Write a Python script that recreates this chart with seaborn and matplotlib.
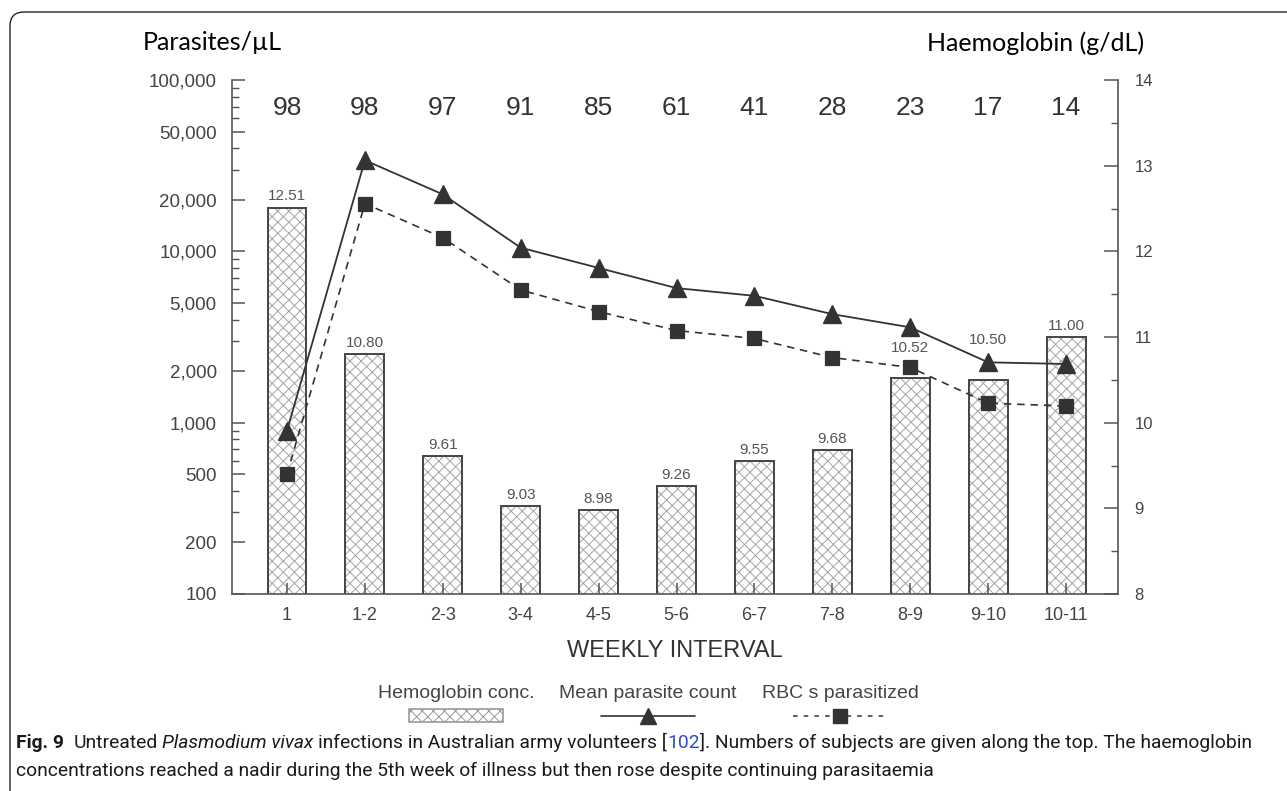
import matplotlib
matplotlib.use("Agg")
import matplotlib.pyplot as plt
import seaborn as sns
from matplotlib import font_manager
from matplotlib.ticker import FixedLocator, FuncFormatter, LogLocator, NullFormatter, MultipleLocator
from matplotlib.patches import FancyBboxPatch, Rectangle
from matplotlib.lines import Line2D
from matplotlib.transforms import IdentityTransform
from matplotlib.offsetbox import TextArea, DrawingArea, VPacker, HPacker, AnchoredOffsetbox


# Data
weeks = ["1", "1-2", "2-3", "3-4", "4-5", "5-6", "6-7", "7-8", "8-9", "9-10", "10-11"]
n_subjects = [98, 98, 97, 91, 85, 61, 41, 28, 23, 17, 14]
haemoglobin = [12.51, 10.80, 9.61, 9.03, 8.98, 9.26, 9.55, 9.68, 10.52, 10.50, 11.00]
parasite_count = [900, 34000, 21500, 10500, 8000, 6100, 5500, 4300, 3600, 2250, 2200]
rbc_parasitized = [500, 19000, 12000, 5950, 4450, 3450, 3100, 2400, 2100, 1300, 1250]

left_ticks = [100, 200, 500, 1000, 2000, 5000, 10000, 20000, 50000, 100000]
right_ticks = [8, 9, 10, 11, 12, 13, 14]

# in the original the 8-9 and 9-10 labels sit above the markers
label_pad = [3, 3, 3, 3, 3, 3, 3, 3, 17, 24, 3]

W, H = 1287, 791
ink = "#333333"
axis_col = "#555555"

sns.set_theme(style="ticks")
plt.rcParams["font.family"] = ["Liberation Sans", "DejaVu Sans"]
plt.rcParams["hatch.linewidth"] = 0.7

fig = plt.figure(figsize=(W / 100, H / 100), dpi=100)
ax = fig.add_axes([232 / W, 1 - 594 / H, (1118 - 232) / W, (594 - 80) / H])
ax2 = ax.twinx()
ax.set_zorder(3)
ax.patch.set_visible(False)

# Haemoglobin bars on the right axis
sns.barplot(x=weeks, y=haemoglobin, ax=ax2, width=0.5, color="white", saturation=1,
            edgecolor="#444444", linewidth=1.4, hatch="xxx")
bars = list(ax2.containers[0])
if hasattr(bars[0], "set_hatchcolor"):
    for bar in bars:
        bar.set_hatchcolor("#a5a5a5")
else:
    for bar in bars:
        bar.set_edgecolor("#a5a5a5")
        bar.set_linewidth(0)
    sns.barplot(x=weeks, y=haemoglobin, ax=ax2, width=0.5, fill=False,
                edgecolor="#444444", linewidth=1.4)

for bar, v, pad in zip(bars, haemoglobin, label_pad):
    ax2.annotate(f"{v:.2f}", (bar.get_x() + bar.get_width() / 2, bar.get_height()),
                 xytext=(0, pad), textcoords="offset points", ha="center", va="bottom",
                 fontsize=11, color="#555555")

# Parasite lines on the left log axis
ax.set_yscale("log")
sns.pointplot(x=weeks, y=parasite_count, ax=ax, color=ink, marker="^", markersize=12.5,
              linewidth=1.3, errorbar=None)
sns.pointplot(x=weeks, y=rbc_parasitized, ax=ax, color=ink, marker="s", markersize=10,
              linewidth=1.2, linestyle=(0, (4.5, 3.5)), errorbar=None)

ax.set_ylim(100, 100000)
ax.yaxis.set_major_locator(FixedLocator(left_ticks))
ax.yaxis.set_major_formatter(FuncFormatter(lambda v, p: f"{v:,.0f}"))
ax.yaxis.set_minor_locator(LogLocator(base=10, subs=(3, 4, 6, 7, 8, 9)))
ax.yaxis.set_minor_formatter(NullFormatter())
ax2.set_ylim(8, 14)
ax2.yaxis.set_major_locator(FixedLocator(right_ticks))
ax2.yaxis.set_minor_locator(MultipleLocator(0.5))
ax.set_xlim(-0.706, 10.667)
ax.set_xticks(range(len(weeks)), weeks)
ax.set_ylabel("")
ax2.set_ylabel("")

for a in (ax, ax2):
    a.spines["top"].set_visible(False)
    for s in a.spines.values():
        s.set_color(axis_col)
        s.set_linewidth(1.2)
ax.spines["right"].set_visible(False)
ax2.spines["left"].set_visible(False)
ax2.spines["bottom"].set_visible(False)

ax.tick_params(axis="y", which="major", direction="in", length=9.5, width=1.1, color=axis_col,
               labelsize=13.5, labelcolor="#444444", pad=11)
ax.tick_params(axis="y", which="minor", direction="in", length=5, width=1, color=axis_col)
ax.tick_params(axis="x", direction="in", length=8, width=1.1, color=axis_col,
               labelsize=13, labelcolor="#444444", pad=9)
ax2.tick_params(axis="y", which="major", direction="in", length=10, width=1.1, color=axis_col,
                labelsize=12, labelcolor="#444444", pad=12)
ax2.tick_params(axis="y", which="minor", direction="in", length=5, width=1, color=axis_col)

# number of subjects along the top
for i, n in enumerate(n_subjects):
    ax.text(i, 0.9455, f"{n}", transform=ax.get_xaxis_transform(), ha="center", va="center",
            fontsize=19, color=ink)

ax.set_xlabel("WEEKLY INTERVAL", fontsize=17, color=ink, labelpad=12)

# axis titles
fig.text(143 / W, 1 - 43 / H, "Parasites/µL", fontsize=18, family=["Lato", "DejaVu Sans"],
         va="center", ha="left", color="black")
fig.text(927 / W, 1 - 43 / H, "Haemoglobin (g/dL)", fontsize=18, family=["Lato", "DejaVu Sans"],
         va="center", ha="left", color="black")

# rounded frame
frame = FancyBboxPatch((10, -40), W + 40, H - 12 + 40, boxstyle="round,pad=0,rounding_size=14",
                       transform=IdentityTransform(), facecolor="none", edgecolor="#222222",
                       linewidth=1.0)
fig.add_artist(frame)


# legend: text above each handle
def legend_entry(label, artists, height):
    da = DrawingArea(68, height, 0, 0)
    for art in artists:
        da.add_artist(art)
    txt = TextArea(label, textprops=dict(fontsize=14, color="#444444"))
    return VPacker(children=[txt, da], align="center", pad=0, sep=4)


hatch_swatch = Rectangle((0, 1), 68, 9, facecolor="white", edgecolor="#9a9a9a", hatch="xxx", linewidth=1.2)
entries = [
    legend_entry("Hemoglobin conc.", [hatch_swatch], 11),
    legend_entry("Mean parasite count", [
        Line2D([0, 68], [6, 6], color=ink, linewidth=1.2),
        Line2D([34], [6], marker="^", markersize=12, color=ink, linestyle="none")], 12),
    legend_entry("RBC s parasitized", [
        Line2D([0, 68], [6, 6], color=ink, linewidth=1.1, linestyle=(0, (3, 4))),
        Line2D([34], [6], marker="s", markersize=10, color=ink, linestyle="none")], 12),
]
legend_box = AnchoredOffsetbox(loc="center", child=HPacker(children=entries, align="top", pad=0, sep=18),
                               frameon=False, pad=0, borderpad=0,
                               bbox_to_anchor=(648 / W, 1 - 705 / H), bbox_transform=fig.transFigure)
fig.add_artist(legend_box)

# caption
font_names = {f.name for f in font_manager.fontManager.ttflist}
cap_family = ["Liberation Sans Narrow" if "Liberation Sans Narrow" in font_names else "Roboto", "DejaVu Sans"]
renderer = fig.canvas.get_renderer()

line1 = [("Fig. 9", dict(weight="bold")), ("  Untreated ", {}), ("Plasmodium vivax", dict(style="italic")),
         (" infections in Australian army volunteers [", {}), ("102", dict(color="#2b4bd6")),
         ("]. Numbers of subjects are given along the top. The haemoglobin", {})]
line2 = [("concentrations reached a nadir during the 5th week of illness but then rose despite "
          "continuing parasitaemia", {})]


def write_runs(runs, x0, y, size):
    p1 = fig.text(0, 0, "n n", fontsize=size, family=cap_family)
    p2 = fig.text(0, 0, "nn", fontsize=size, family=cap_family)
    space = p1.get_window_extent(renderer).width - p2.get_window_extent(renderer).width
    p1.remove()
    p2.remove()
    x = x0
    made = []
    for txt, kw in runs:
        body = txt.strip(" ")
        x += (len(txt) - len(txt.lstrip(" "))) * space
        props = dict(color="#1a1a1a")
        props.update(kw)
        t = fig.text(x / W, 1 - y / H, body, fontsize=size, family=cap_family,
                     va="baseline", ha="left", **props)
        made.append(t)
        x += t.get_window_extent(renderer).width + (len(txt) - len(txt.rstrip(" "))) * space
    return made, x - x0


trial, width = write_runs(line1, 16, 748, 14)
for t in trial:
    t.remove()
cap_size = 14 * 1244 / width
write_runs(line1, 16, 748, cap_size)
write_runs(line2, 16, 776, cap_size)

fig.savefig("out.png", dpi=100)
